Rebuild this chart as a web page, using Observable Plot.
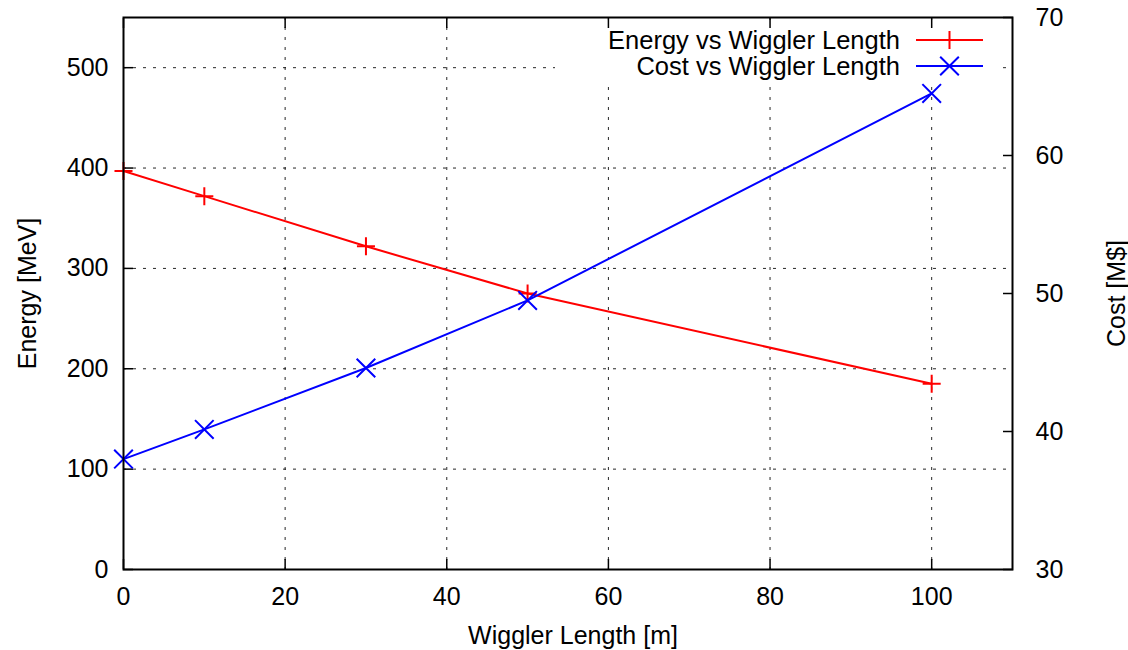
<!DOCTYPE html>
<html>
<head>
<meta charset="utf-8">
<script src="https://cdn.jsdelivr.net/npm/d3@7"></script>
<script src="https://cdn.jsdelivr.net/npm/@observablehq/plot@0.6"></script>
<style>
  html, body { margin: 0; padding: 0; background: #fff; }
  #chart svg { display: block; }
</style>
</head>
<body>
<div id="chart"></div>
<script>
// Wiggler length scan: beam energy (left axis) and cost (right axis)
const wigglerLength = [0, 10, 30, 50, 100];          // m
const energyMeV     = [397, 372, 322, 275, 185];      // MeV
const costMUSD      = [38.0, 40.15, 44.6, 49.5, 64.5]; // M$

const xTicks      = [0, 20, 40, 60, 80, 100];
const energyTicks = [0, 100, 200, 300, 400, 500];
const costTicks   = [30, 40, 50, 60, 70];
const seriesNames = ["Energy vs Wiggler Length", "Cost vs Wiggler Length"];
const seriesColors = ["#ff0000", "#0000ff"];

const xDomain = [0, 110];
const energyDomain = [0, 550];
const costDomain = [30, 70];

// The cost series shares the energy scale through a linear mapping
const costToEnergy = d3.scaleLinear(costDomain, energyDomain);

const energyRows = wigglerLength.map((x, i) => ({x, y: energyMeV[i]}));
const costRows = wigglerLength.map((x, i) => ({x, y: costToEnergy(costMUSD[i]), cost: costMUSD[i]}));

const FONT = "'Liberation Sans', Arial, Helvetica, sans-serif";
const FS = 25;

// symbol sizes (area) for the gnuplot-like point types
const plusSize = 108;
const timesSize = 228;
const symbolR = s => Math.sqrt(s / Math.PI);

const legendEntries = [
  {name: seriesNames[0], color: seriesColors[0], symbol: d3.symbolPlus, size: plusSize},
  {name: seriesNames[1], color: seriesColors[1], symbol: d3.symbolTimes, size: timesSize}
];

// Key in the upper-right corner of the frame, on an opaque background
function keyMark(index, scales, values, dims) {
  const right = dims.width - dims.marginRight;
  const top = dims.marginTop;
  const g = d3.create("svg:g");
  g.append("rect")
    .attr("x", right - 457).attr("y", top + 10)
    .attr("width", 442).attr("height", 53)
    .attr("fill", "white");
  legendEntries.forEach((e, i) => {
    const cy = top + 23 + i * 26;
    g.append("text")
      .attr("x", right - 112).attr("y", cy).attr("dy", "0.36em")
      .attr("text-anchor", "end")
      .attr("font-family", FONT).attr("font-size", FS + 0.5)
      .attr("fill", "black")
      .text(e.name);
    g.append("line")
      .attr("x1", right - 96).attr("x2", right - 29)
      .attr("y1", cy).attr("y2", cy)
      .attr("stroke", e.color).attr("stroke-width", 2);
    g.append("path")
      .attr("transform", `translate(${right - 62.5},${cy})`)
      .attr("d", d3.symbol(e.symbol, e.size)())
      .attr("fill", "none").attr("stroke", e.color).attr("stroke-width", 2);
  });
  return g.node();
}

const gridStyle = {stroke: "#000", strokeOpacity: 0.85, strokeWidth: 1, strokeDasharray: "3,7"};

const chart = Plot.plot({
  width: 1128,
  height: 650,
  marginLeft: 123,
  marginRight: 116,
  marginTop: 17,
  marginBottom: 81,
  style: {fontFamily: FONT, fontSize: FS + "px", background: "white", color: "black"},
  x: {domain: xDomain},
  y: {domain: energyDomain},
  marks: [
    // grid
    Plot.gridX({ticks: xTicks.filter(d => d > 0), ...gridStyle}),
    Plot.gridY({ticks: energyTicks.filter(d => d > 0), ...gridStyle}),

    keyMark,

    // inward tick marks
    Plot.axisX({anchor: "bottom", ticks: xTicks, tickSize: 10, insetBottom: 10, fill: "none", label: null, strokeWidth: 1.5}),
    Plot.axisX({anchor: "top", ticks: xTicks, tickSize: 10, insetTop: 10, fill: "none", label: null, strokeWidth: 1.5}),
    Plot.axisY({anchor: "left", ticks: energyTicks, tickSize: 10, insetLeft: 10, fill: "none", label: null, strokeWidth: 1.5}),
    Plot.axisY({anchor: "right", ticks: costTicks.map(costToEnergy), tickSize: 10, insetRight: 10, fill: "none", label: null, strokeWidth: 1.5}),

    // tick labels
    Plot.axisX({anchor: "bottom", ticks: xTicks, tickSize: 0, tickPadding: 18, label: null, fontSize: FS, tickFormat: d => d}),
    Plot.axisY({anchor: "left", ticks: energyTicks, tickSize: 0, tickPadding: 15, label: null, fontSize: FS, tickFormat: d => d}),
    Plot.axisY({anchor: "right", ticks: costTicks.map(costToEnergy), tickSize: 0, tickPadding: 23, label: null, fontSize: FS,
                tickFormat: d => Math.round(costToEnergy.invert(d))}),

    // axis titles
    Plot.text(["Wiggler Length [m]"], {text: d => d, frameAnchor: "bottom", dy: 66, dx: 5, fontSize: FS, lineAnchor: "middle", textAnchor: "middle"}),
    Plot.text(["Energy [MeV]"], {text: d => d, frameAnchor: "left", dx: -96, rotate: -90, fontSize: FS, lineAnchor: "middle", textAnchor: "middle"}),
    Plot.text(["Cost [M$]"], {text: d => d, frameAnchor: "right", dx: 104, rotate: -90, fontSize: FS, lineAnchor: "middle", textAnchor: "middle"}),

    // data series
    Plot.line(energyRows, {x: "x", y: "y", stroke: seriesColors[0], strokeWidth: 2}),
    Plot.dot(energyRows, {x: "x", y: "y", symbol: "plus", r: symbolR(plusSize), stroke: seriesColors[0], strokeWidth: 2}),
    Plot.line(costRows, {x: "x", y: "y", stroke: seriesColors[1], strokeWidth: 2}),
    Plot.dot(costRows, {x: "x", y: "y", symbol: "times", r: symbolR(timesSize), stroke: seriesColors[1], strokeWidth: 2}),

    Plot.frame({stroke: "black", strokeWidth: 2})
  ]
});

document.getElementById("chart").append(chart);
</script>
</body>
</html>
